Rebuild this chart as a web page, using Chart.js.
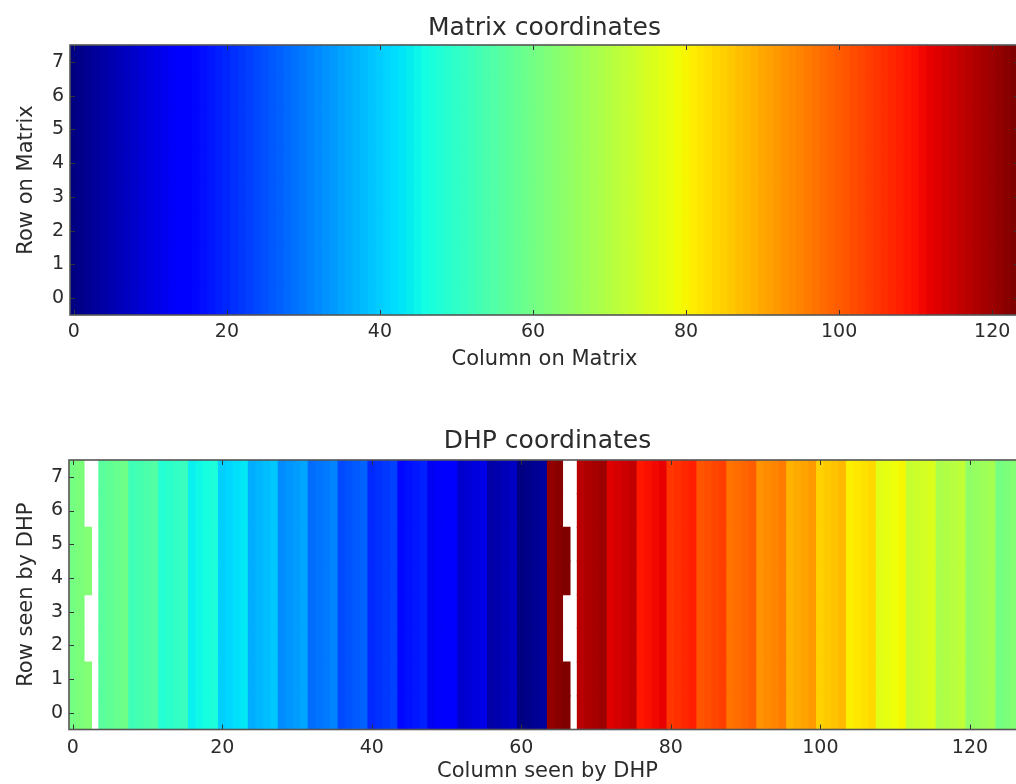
<!DOCTYPE html>
<html>
<head>
<meta charset="utf-8">
<script src="https://cdn.jsdelivr.net/npm/chart.js@4/dist/chart.umd.min.js"></script>
<style>
	html, body { margin: 0; padding: 0; background: #fff; overflow: hidden; }
	#wrap { position: relative; width: 1016px; height: 784px; overflow: hidden; }
	canvas { position: absolute; left: 0; }
	#matrix-chart { top: 0; }
	#dhp-chart { top: 388px; }
</style>
</head>
<body>
<div id="wrap">
	<canvas id="matrix-chart" width="1040" height="389"></canvas>
	<canvas id="dhp-chart" width="1040" height="396"></canvas>
</div>
<script>
// Matrix coordinates: every row holds the column number
const matrix_rows = [0, 1, 2, 3, 4, 5, 6, 7];
const matrix_values = [
	0, 1, 2, 3, 4, 5, 6, 7, 8, 9, 10, 11, 12, 13, 14, 15,
	16, 17, 18, 19, 20, 21, 22, 23, 24, 25, 26, 27, 28, 29, 30, 31,
	32, 33, 34, 35, 36, 37, 38, 39, 40, 41, 42, 43, 44, 45, 46, 47,
	48, 49, 50, 51, 52, 53, 54, 55, 56, 57, 58, 59, 60, 61, 62, 63,
	64, 65, 66, 67, 68, 69, 70, 71, 72, 73, 74, 75, 76, 77, 78, 79,
	80, 81, 82, 83, 84, 85, 86, 87, 88, 89, 90, 91, 92, 93, 94, 95,
	96, 97, 98, 99, 100, 101, 102, 103, 104, 105, 106, 107, 108, 109, 110, 111,
	112, 113, 114, 115, 116, 117, 118, 119, 120, 121, 122, 123,
];

// DHP coordinates: matrix column seen at each DHP column
const dhp_rows = [0, 1, 2, 3, 4, 5, 6, 7];
const dhp_values = [
	60, 61, 62, 63, 56, 57, 58, 59, 52, 53, 54, 55, 48, 49, 50, 51,
	44, 45, 46, 47, 40, 41, 42, 43, 36, 37, 38, 39, 32, 33, 34, 35,
	28, 29, 30, 31, 24, 25, 26, 27, 20, 21, 22, 23, 16, 17, 18, 19,
	12, 13, 14, 15, 8, 9, 10, 11, 4, 5, 6, 7, 0, 1, 2, 3,
	120, 121, 122, 123, 116, 117, 118, 119, 112, 113, 114, 115, 108, 109, 110, 111,
	104, 105, 106, 107, 100, 101, 102, 103, 96, 97, 98, 99, 92, 93, 94, 95,
	88, 89, 90, 91, 84, 85, 86, 87, 80, 81, 82, 83, 76, 77, 78, 79,
	72, 73, 74, 75, 68, 69, 70, 71, 64, 65, 66, 67, 60, 61, 62, 63,
];
// DHP columns with no pixel (drawn white), one list per row
const dhp_missing = [
	[3, 67], [3, 67], [2, 3, 66, 67], [2, 3, 66, 67],
	[3, 67], [3, 67], [2, 3, 66, 67], [2, 3, 66, 67],
];

const column_ticks = [0, 20, 40, 60, 80, 100, 120];

const text_color = '#2b2b2b';
const font_family = '"DejaVu Sans", sans-serif';

// matplotlib "jet"
const jet_segments = {
	r: [[0, 0], [0.35, 0], [0.66, 1], [0.89, 1], [1, 0.5]],
	g: [[0, 0], [0.125, 0], [0.375, 1], [0.64, 1], [0.91, 0], [1, 0]],
	b: [[0, 0.5], [0.11, 1], [0.34, 1], [0.65, 0], [1, 0]],
};

function segmentValue(seg, t) {
	for (let i = 1; i < seg.length; i++) {
		if (t <= seg[i][0]) {
			const [x0, y0] = seg[i - 1];
			const [x1, y1] = seg[i];
			return y0 + (y1 - y0) * (t - x0) / (x1 - x0);
		}
	}
	return seg[seg.length - 1][1];
}

function jet(t) {
	t = Math.min(1, Math.max(0, t));
	const r = Math.round(255 * segmentValue(jet_segments.r, t));
	const g = Math.round(255 * segmentValue(jet_segments.g, t));
	const b = Math.round(255 * segmentValue(jet_segments.b, t));
	return `rgb(${r},${g},${b})`;
}

function heatmapDatasets(rows, values, missing) {
	const datasets = rows.map((row) => ({
		data: values
			.map((v, col) => ({ x: col, y: [row - 0.5, row + 0.5], v: v }))
			.filter((p) => !(missing && missing[row].includes(p.x))),
		borderWidth: 0,
		inflateAmount: 0.6,
		grouped: false,
		barPercentage: 1,
		categoryPercentage: 1,
	}));
	// colour scale from the cells actually drawn, as imshow does
	let vmin = Infinity, vmax = -Infinity;
	datasets.forEach((ds) => ds.data.forEach((p) => {
		vmin = Math.min(vmin, p.v);
		vmax = Math.max(vmax, p.v);
	}));
	datasets.forEach((ds) => {
		ds.backgroundColor = (ctx) => jet((ctx.raw.v - vmin) / (vmax - vmin));
	});
	return datasets;
}

const frame_plugin = {
	id: 'frame',
	afterDatasetsDraw(chart) {
		const { ctx, chartArea: a, scales } = chart;
		ctx.save();
		ctx.strokeStyle = '#333';
		ctx.lineWidth = 1;
		ctx.beginPath();
		scales.x.ticks.forEach((t) => {
			const px = Math.round(scales.x.getPixelForValue(t.value)) + 0.5;
			ctx.moveTo(px, a.bottom);
			ctx.lineTo(px, a.bottom - 5);
			ctx.moveTo(px, a.top);
			ctx.lineTo(px, a.top + 5);
		});
		scales.y.ticks.forEach((t) => {
			const py = Math.round(scales.y.getPixelForValue(t.value)) + 0.5;
			ctx.moveTo(a.left, py);
			ctx.lineTo(a.left + 5, py);
			ctx.moveTo(a.right, py);
			ctx.lineTo(a.right - 5, py);
		});
		ctx.stroke();
		ctx.strokeStyle = '#555';
		ctx.lineWidth = 1.6;
		ctx.strokeRect(a.left, a.top, a.width, a.height);
		ctx.restore();
	},
};

function heatmapOptions(cfg) {
	return {
		responsive: false,
		animation: false,
		layout: {
			padding: { left: 0, right: cfg.padRight, top: 0, bottom: cfg.padBottom },
		},
		scales: {
			x: {
				type: 'linear',
				min: -0.5,
				max: cfg.xMax,
				offset: false,
				grid: { display: false, drawTicks: false },
				border: { display: false },
				ticks: {
					autoSkip: false,
					maxRotation: 0,
					padding: cfg.xTickPad,
					color: text_color,
					font: { family: font_family, size: 19 },
				},
				afterBuildTicks: (scale) => {
					scale.ticks = column_ticks.map((v) => ({ value: v }));
				},
				afterFit: (scale) => {
					scale.height = cfg.xHeight;
				},
				title: {
					display: true,
					text: cfg.xLabel,
					color: text_color,
					font: { family: font_family, size: 21 },
					padding: 0,
				},
			},
			y: {
				type: 'linear',
				min: -0.5,
				max: 7.5,
				grid: { display: false, drawTicks: false },
				border: { display: false },
				ticks: {
					padding: 6,
					color: text_color,
					font: { family: font_family, size: 19 },
				},
				afterBuildTicks: (scale) => {
					scale.ticks = cfg.rows.map((v) => ({ value: v }));
				},
				afterFit: (scale) => {
					scale.width = cfg.yWidth;
				},
				title: {
					display: true,
					text: cfg.yLabel,
					color: text_color,
					font: { family: font_family, size: 21 },
					padding: { top: 14.4, bottom: 0 },
				},
			},
		},
		plugins: {
			legend: { display: false },
			tooltip: { enabled: false },
			title: {
				display: true,
				fullSize: false,
				text: cfg.title,
				color: text_color,
				font: { family: font_family, size: 25, weight: 'normal', lineHeight: 1.2 },
				padding: { top: cfg.titleTop, bottom: cfg.titleBottom },
			},
		},
	};
}

var matrix_chart_ctx = document.getElementById('matrix-chart').getContext('2d');
var matrix_chart = new Chart(matrix_chart_ctx, {
	type: 'bar',
	data: { datasets: heatmapDatasets(matrix_rows, matrix_values, null) },
	options: heatmapOptions({
		title: 'Matrix coordinates',
		xLabel: 'Column on Matrix',
		yLabel: 'Row on Matrix',
		rows: matrix_rows,
		xMax: 123.5,
		padRight: 21,
		padBottom: 16.4,
		xHeight: 57.6,
		xTickPad: 5.6,
		yWidth: 70,
		titleTop: 13,
		titleBottom: 2,
	}),
	plugins: [frame_plugin],
});

var dhp_chart_ctx = document.getElementById('dhp-chart').getContext('2d');
var dhp_chart = new Chart(dhp_chart_ctx, {
	type: 'bar',
	data: { datasets: heatmapDatasets(dhp_rows, dhp_values, dhp_missing) },
	options: heatmapOptions({
		title: 'DHP coordinates',
		xLabel: 'Column seen by DHP',
		yLabel: 'Row seen by DHP',
		rows: dhp_rows,
		xMax: 127.5,
		padRight: 14,
		padBottom: 0,
		xHeight: 54.5,
		xTickPad: 7.1,
		yWidth: 69,
		titleTop: 38,
		titleBottom: 4,
	}),
	plugins: [frame_plugin],
});
</script>
</body>
</html>
